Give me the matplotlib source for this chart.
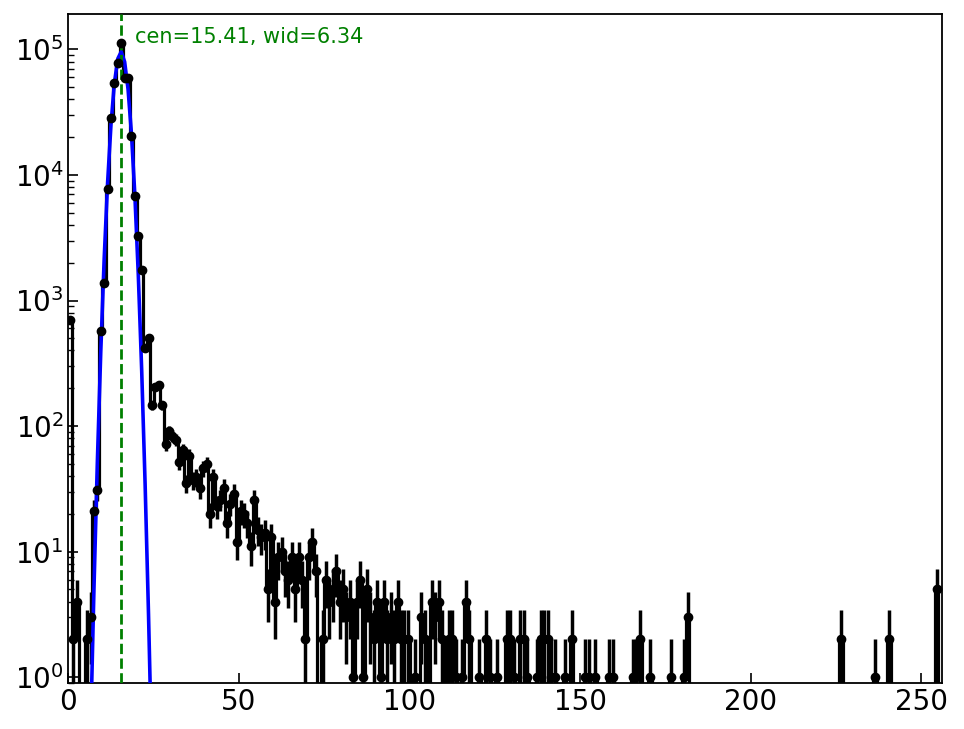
import matplotlib

matplotlib.use("Agg")
import matplotlib.pyplot as plt
import numpy as np

# counts per bin, bins 0..99
counts_head = [
    700, 2, 4, 0, 0, 2, 3, 21, 31, 567,
    1390, 7700, 28200, 53800, 77400, 113000, 59600, 59000, 20300, 6780,
    3260, 1760, 416, 506, 147, 205, 213, 147, 72, 91,
    84, 78, 52, 64, 35, 58, 37, 39, 32, 46,
    50, 20, 39, 23, 26, 32, 17, 24, 29, 12,
    21, 20, 17, 11, 26, 15, 13, 14, 5, 13,
    4, 9, 10, 7, 6, 9, 5, 9, 6, 2,
    9, 12, 7, 0, 2, 6, 4, 5, 7, 4,
    5, 3, 4, 1, 4, 6, 1, 5, 3, 2,
    4, 1, 4, 2, 3, 2, 4, 2, 2, 2,
]

# sparse tail: non-empty bins >= 100
tail_bins = [101, 103, 104, 106, 107, 108, 109, 111, 112, 113,
             115, 116, 117, 120, 122, 123, 125, 128, 129, 130,
             132, 133, 134, 137, 138, 139, 140, 141, 142, 145,
             147, 151, 152, 154, 158, 159, 165, 166, 167, 170,
             176, 180, 181, 226, 236, 240, 254]
tail_counts = [1, 3, 2, 4, 3, 4, 2, 2, 2, 1,
               1, 4, 2, 1, 2, 1, 1, 2, 2, 1,
               2, 2, 1, 1, 2, 2, 2, 1, 1, 1,
               2, 1, 1, 1, 1, 1, 1, 1, 2, 1,
               1, 1, 3, 2, 1, 2, 5]

N_BINS = 256

# gaussian fit parameters
FIT_CEN = 15.41
FIT_WID = 6.34
FIT_AMP = 96000.0

counts = np.zeros(N_BINS)
counts[:len(counts_head)] = counts_head
counts[tail_bins] = tail_counts
x = np.arange(N_BINS) + 0.5

fig = plt.figure(figsize=(9.64, 7.29), dpi=100)
ax = fig.add_axes([0.0709, 0.0627, 0.906, 0.918])

# data: step line + sqrt(N) error bars, markers drawn on top later
ax.errorbar(x, counts, yerr=np.sqrt(counts), fmt="-", color="black",
            lw=2.3, elinewidth=2.5, capsize=0,
            drawstyle="steps-mid", zorder=2)
fit = FIT_AMP * np.exp(-(x - FIT_CEN) ** 2 / FIT_WID)
ax.plot(x, fit, color="blue", lw=2.6, zorder=3)
ax.axvline(FIT_CEN, color="green", ls="--", lw=2, zorder=4)
ax.plot(x, counts, "o", color="black", ms=6, zorder=5)

ax.text(FIT_CEN + 4, counts.max(), f"cen={FIT_CEN:.2f}, wid={FIT_WID:.2f}",
        color="green", fontsize=15, va="baseline")

ax.set_yscale("log")
ax.set_xlim(0, 256)
ax.set_ylim(0.895, 1.91e5)
ax.tick_params(which="both", direction="in", top=False, right=False,
               labelsize=20)
ax.tick_params(which="major", length=7, width=1.2)
ax.tick_params(which="minor", length=4, width=1.0)
for sp in ax.spines.values():
    sp.set_linewidth(1.3)

fig.savefig("out.png", dpi=100)
